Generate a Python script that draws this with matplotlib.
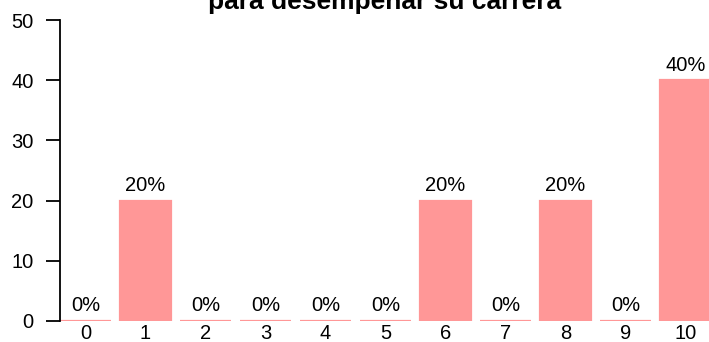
import matplotlib
matplotlib.use("Agg")
import matplotlib.pyplot as plt

plt.rcParams["font.family"] = ["Liberation Sans", "DejaVu Sans"]

# values
categories = ["0", "1", "2", "3", "4", "5", "6", "7", "8", "9", "10"]
values = [0, 20, 0, 0, 0, 0, 20, 0, 20, 0, 40]
labels = ["0%", "20%", "0%", "0%", "0%", "0%", "20%", "0%", "20%", "0%", "40%"]
title = "para desempeñar su carrera"

fig = plt.figure(figsize=(7.09, 3.42), dpi=100)
ax = fig.add_axes([60 / 709, 21 / 342, 649 / 709, 301 / 342])

x = range(len(categories))
bars = ax.bar(x, values, width=0.84, color="#ff9797",
              edgecolor="#ff9797", linewidth=1.6)

for b, lab in zip(bars, labels):
    ax.annotate(lab, (b.get_x() + b.get_width() / 2, b.get_height()),
                xytext=(0, 4), textcoords="offset points",
                ha="center", va="bottom", fontsize=14.5)

ax.set_xlim(-0.425, 10.39)
ax.set_ylim(0, 50)
ax.set_yticks([0, 10, 20, 30, 40, 50])
ax.set_xticks(list(x))
ax.set_xticklabels(categories)

for side in ["top", "right", "bottom"]:
    ax.spines[side].set_visible(False)
ax.spines["left"].set_linewidth(1.3)

ax.tick_params(axis="y", direction="out", length=10, width=1.3,
               pad=9, labelsize=14.5)
ax.tick_params(axis="x", length=0, pad=2, labelsize=14.5)

# title centred over the plot area, top cut off as in the source
fig.text(384.5 / 709, 1 - 9 / 342, title, ha="center", va="baseline",
         fontsize=19, fontweight="bold")

fig.savefig("out.png", dpi=100)
